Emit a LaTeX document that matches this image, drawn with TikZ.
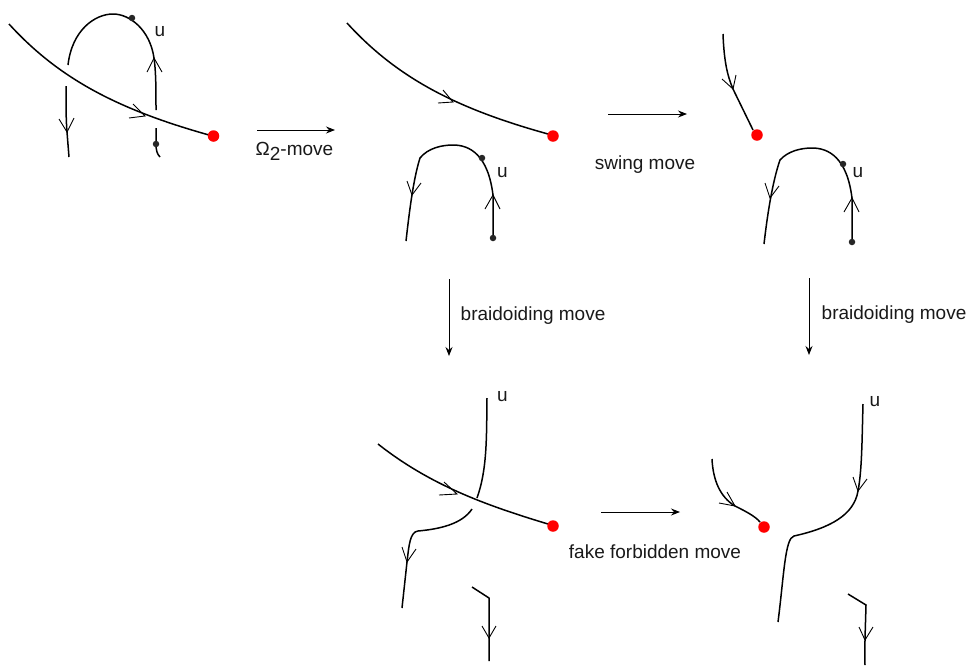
\documentclass[tikz,border=0pt]{standalone}
\usepackage{fontspec}
\setmainfont{Liberation Sans}
\usetikzlibrary{arrows.meta}
\tikzset{
  strand/.style={line width=1.5pt,black,line cap=butt},
  wing/.style={line width=0.9pt,black},
  move/.style={line width=0.9pt,black,-{Stealth[length=9pt,width=7pt,inset=3pt]}},
  lab/.style={inner sep=0pt,text=black!90,font=\fontsize{19}{21}\selectfont},
  redpt/.style={circle,fill=red,draw=none,minimum size=11.5pt,inner sep=0pt},
  blackpt/.style={circle,fill=black!85,draw=none,minimum size=6.5pt,inner sep=0pt}
}
\begin{document}
\begin{tikzpicture}[x=1pt,y=-1pt]
\useasboundingbox (0,0) rectangle (967,665);
% panel 1
\draw[strand] (9,24) .. controls (60,80) and (120,110) .. (209,135);
\draw[strand] (68,65) .. controls (72,30) and (95,14) .. (113,14) .. controls (130,14) and (150,30) .. (154,58) .. controls (156,72) and (156,90) .. (156,110);
\draw[strand] (156,128) -- (156,144) .. controls (156,150) and (157,154) .. (160,157);
\draw[strand] (66,86) .. controls (66,105) and (66,120) .. (67,132) -- (69,157);
\draw[wing] (147,72) -- (154,58) -- (162,72);
\draw[wing] (59,119) -- (67,132) -- (74,118);
\draw[wing] (133,104) -- (145,116) -- (129,118);
\node[redpt] (r1) at (213.5,136) {};
\node[blackpt] (b1) at (132,18) {};
\node[blackpt] (b2) at (156,144) {};
\node[lab] (u1) at (160,32) {u};
\coordinate (m1a) at (257,130); \coordinate (m1b) at (335,130);
\draw[move] (m1a) -- (m1b);
\node[lab,anchor=base west] (t1) at (255.5,155) {Ω\raisebox{-5pt}{2}-move};
% panel 2
\draw[strand] (347,23) .. controls (398,79) and (458,109) .. (548,134);
\draw[strand] (406,241) .. controls (409,215) and (413,180) .. (420,158) .. controls (428,148) and (442,145) .. (453,145) .. controls (470,145) and (488,155) .. (493,195) -- (493,238);
\draw[wing] (443,90) -- (453,102) -- (438,103);
\draw[wing] (407,181) -- (412,195) -- (421,183);
\draw[wing] (485,209) -- (493,195) -- (500,209);
\node[redpt] (r2) at (553,136) {};
\node[blackpt] (b3) at (482,158) {};
\node[blackpt] (b4) at (493,238) {};
\node[lab] (u2) at (502.5,173) {u};
\coordinate (m2a) at (608,114); \coordinate (m2b) at (687,114);
\draw[move] (m2a) -- (m2b);
\node[lab,anchor=base] (t2) at (645,169) {swing move};
% panel 3
\draw[strand] (723,34) .. controls (724,60) and (727,75) .. (733,89) -- (753,130);
\draw[strand] (764,244) .. controls (767,218) and (772,183) .. (780,160) .. controls (788,151) and (801,148) .. (812,148) .. controls (829,148) and (847,158) .. (852,198) -- (852,242);
\draw[wing] (722,79) -- (733,89) -- (736,75);
\draw[wing] (765,183) -- (770,198) -- (779,186);
\draw[wing] (844,212) -- (852,198) -- (859,212);
\node[redpt] (r3) at (757,135) {};
\node[blackpt] (b5) at (843,164) {};
\node[blackpt] (b6) at (852,242) {};
\node[lab] (u3) at (858,173) {u};
% vertical moves
\coordinate (m3a) at (449,279); \coordinate (m3b) at (449,356);
\draw[move] (m3a) -- (m3b);
\node[lab,anchor=base west] (t3) at (460.5,320) {braidoiding move};
\coordinate (m4a) at (809,278); \coordinate (m4b) at (809,355);
\draw[move] (m4a) -- (m4b);
\node[lab,anchor=base west] (t4) at (821.5,319) {braidoiding move};
% panel 4
\draw[strand] (378,444) .. controls (430,485) and (485,505) .. (548,524);
\draw[strand] (487,398) .. controls (486.5,440) and (487,470) .. (477,498);
\draw[strand] (472,509) .. controls (462,524) and (440,529) .. (418,531) .. controls (410,532) and (409,545) .. (407,562) -- (402,608);
\draw[strand] (472,587) -- (489,598) .. controls (489.5,615) and (489,640) .. (489,661);
\draw[wing] (444,482) -- (457,494) -- (439,495);
\draw[wing] (402,547) -- (407,562) -- (416,549);
\draw[wing] (482,626) -- (489,638) -- (496,626);
\node[redpt] (r4) at (553,526) {};
\node[lab] (u4) at (502.5,397) {u};
\coordinate (m5a) at (601,512); \coordinate (m5b) at (680,512);
\draw[move] (m5a) -- (m5b);
\node[lab,anchor=base] (t5) at (655,558) {fake forbidden move};
% panel 5
\draw[strand] (712,459) .. controls (713,480) and (720,497) .. (735,506) .. controls (745,511) and (755,516) .. (760,522);
\draw[strand] (863,404) .. controls (862,440) and (862,470) .. (858,491) .. controls (854,515) and (830,528) .. (794,536) .. controls (785,538) and (784,575) .. (778,622);
\draw[strand] (848,594) -- (866,605) .. controls (865.5,625) and (864.5,645) .. (865,665);
\draw[wing] (727,492) -- (735,506) -- (719,503);
\draw[wing] (853,477) -- (858,491) -- (867,479);
\draw[wing] (859,627) -- (865,640) -- (873,627);
\node[redpt] (r5) at (764,527) {};
\node[lab] (u5) at (875,402) {u};
\end{tikzpicture}
\end{document}
